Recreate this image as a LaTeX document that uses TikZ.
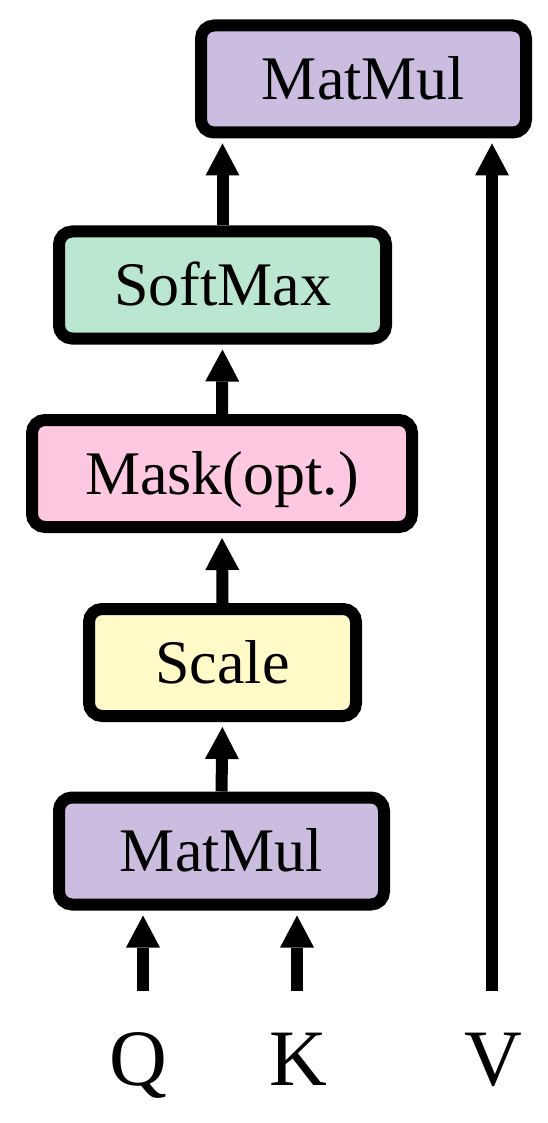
\documentclass[tikz,border=0pt]{standalone}
\usepackage{fontspec}
\setmainfont{Liberation Serif}
\usetikzlibrary{arrows.meta}
\definecolor{cpurple}{RGB}{203,189,224}
\definecolor{cgreen}{RGB}{187,230,208}
\definecolor{cpink}{RGB}{255,200,225}
\definecolor{cyellow}{RGB}{255,250,200}
\begin{document}
\begin{tikzpicture}[x=1pt,y=-1pt,
  opbox/.style={draw=black, line width=12pt, rounded corners=13pt, inner sep=0pt,
    minimum height=107pt, font=\fontsize{62}{70}\selectfont,
    text height=41pt, text depth=0pt},
  arr/.style={line width=12pt, shorten >=5pt,
    -{Triangle[width=34pt,length=32pt,line width=0pt]}},
  lbl/.style={inner sep=0pt, font=\fontsize{80}{90}\selectfont, anchor=base}]
\useasboundingbox (0,0) rectangle (548,1123);
\node[opbox, fill=cpurple, minimum width=325pt] (mm2) at (363.5,79) {MatMul};
\node[opbox, fill=cgreen, minimum width=327pt] (smax) at (222.5,285) {SoftMax};
\node[opbox, fill=cpink, minimum width=380pt] (mask) at (222,473.5) {Mask(opt.)};
\node[opbox, fill=cyellow, minimum width=267pt] (scale) at (222.5,662.5) {Scale};
\node[opbox, fill=cpurple, minimum width=325pt] (mm1) at (221.5,851) {MatMul};
\coordinate (qtail) at (143,991);
\coordinate (ktail) at (297,991);
\coordinate (vtail) at (492,991);
\node[lbl] (q) at (138,1085) {Q};
\node[lbl] (k) at (298,1085) {K};
\node[lbl] (v) at (493,1085) {V};
\draw[arr] (smax.north) -- (smax.north |- mm2.south);
\draw[arr] (mask.north) -- (smax.south);
\draw[arr] (scale.north) -- (mask.south);
\draw[arr] (mm1.north) -- (scale.south);
\draw[arr] (qtail) -- (qtail |- mm1.south);
\draw[arr] (ktail) -- (ktail |- mm1.south);
\draw[arr] (vtail) -- (vtail |- mm2.south);
\end{tikzpicture}
\end{document}
